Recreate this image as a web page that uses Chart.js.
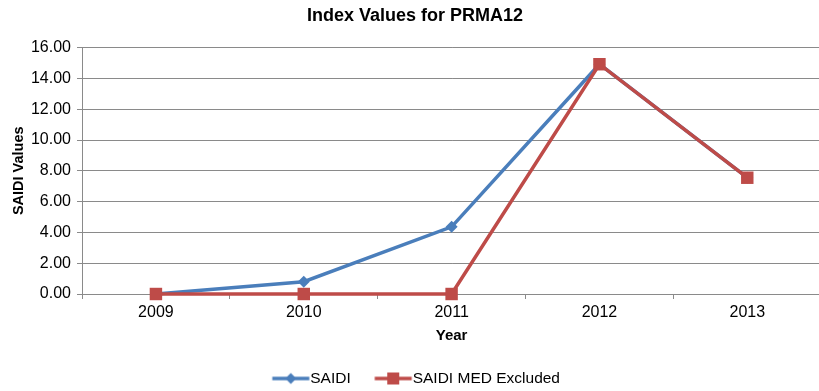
<!DOCTYPE html>
<html>
<head>
<meta charset="utf-8">
<script src="https://cdn.jsdelivr.net/npm/chart.js@4/dist/chart.umd.min.js"></script>
<style>
  html, body { margin: 0; padding: 0; background: #fff; overflow: hidden; }
  #wrap { position: relative; width: 830px; height: 391px; }
</style>
</head>
<body>
<div id="wrap"><canvas id="chart" width="830" height="391"></canvas></div>
<script>
// Reliability index per year for circuit PRMA12
const years = ['2009', '2010', '2011', '2012', '2013'];
const saidi = [0.00, 0.80, 4.36, 14.92, 7.55];
const saidiMedExcluded = [0.00, 0.00, 0.00, 14.92, 7.55];
const seriesNames = ['SAIDI', 'SAIDI MED Excluded'];
const yTicks = [0, 2, 4, 6, 8, 10, 12, 14, 16];

const BLUE = '#4a7ebb';
const RED = '#be4b48';
const GRID = '#8a8a8a';
const FONT = '"Liberation Sans", Arial, sans-serif';

// Legend swatch: short line with the series marker in the middle.
// The canvas is wider than the line so the line sits right next to the text.
function swatch(color, marker) {
  const c = document.createElement('canvas');
  c.width = 46; c.height = 14;
  const g = c.getContext('2d');
  const x0 = 7.5, x1 = x0 + 37, mid = (x0 + x1) / 2;
  g.strokeStyle = color; g.lineWidth = 3.5;
  g.beginPath(); g.moveTo(x0, 7); g.lineTo(x1, 7); g.stroke();
  g.fillStyle = color;
  if (marker === 'diamond') {
    g.beginPath(); g.moveTo(mid, 1.5); g.lineTo(mid + 5.5, 7); g.lineTo(mid, 12.5); g.lineTo(mid - 5.5, 7); g.closePath(); g.fill();
  } else {
    g.fillRect(mid - 6, 1, 12, 12);
  }
  return c;
}
const legendIcons = [swatch(BLUE, 'diamond'), swatch(RED, 'square')];

// Small horizontal nudges for the title and legend blocks
const blockNudge = {
  id: 'blockNudge',
  afterLayout(chart) {
    if (chart.legend) { chart.legend.left += 3; chart.legend.right += 3; }
    if (chart.titleBlock) { chart.titleBlock.left += 1.5; chart.titleBlock.right += 1.5; }
  }
};

new Chart(document.getElementById('chart'), {
  type: 'line',
  data: {
    labels: years,
    datasets: [
      {
        label: seriesNames[0],
        data: saidi,
        borderColor: BLUE,
        backgroundColor: BLUE,
        borderWidth: 3.5,
        pointStyle: 'rectRot',
        pointRadius: 6,
        pointBorderWidth: 0,
        pointBackgroundColor: BLUE,
        tension: 0,
        clip: false,
        order: 1
      },
      {
        label: seriesNames[1],
        data: saidiMedExcluded,
        borderColor: RED,
        backgroundColor: RED,
        borderWidth: 3.5,
        pointStyle: 'rect',
        pointRadius: 8.8,
        pointBorderWidth: 0,
        pointBackgroundColor: RED,
        tension: 0,
        clip: false,
        order: 0
      }
    ]
  },
  plugins: [blockNudge],
  options: {
    responsive: false,
    animation: false,
    devicePixelRatio: 1,
    layout: { padding: { left: 0, right: 3, top: 0, bottom: 0 } },
    plugins: {
      tooltip: { enabled: false },
      title: {
        display: true,
        text: 'Index Values for PRMA12',
        color: '#000',
        font: { family: FONT, size: 18, weight: 'bold' },
        padding: { top: 5, bottom: 21 }
      },
      legend: {
        position: 'bottom',
        maxHeight: 45,
        labels: {
          color: '#000',
          font: { family: FONT, size: 15.5 },
          usePointStyle: true,
          pointStyleWidth: 29.5,
          padding: 24.7,
          generateLabels: () => seriesNames.map((name, i) => ({
            text: name,
            pointStyle: legendIcons[i],
            fillStyle: 'transparent',
            strokeStyle: 'transparent',
            lineWidth: 0,
            hidden: false,
            datasetIndex: i
          }))
        }
      }
    },
    scales: {
      x: {
        type: 'category',
        offset: true,
        grid: {
          display: true,
          offset: true,
          drawOnChartArea: false,
          drawTicks: true,
          tickLength: 5,
          color: GRID
        },
        border: { display: true, color: GRID, width: 1 },
        ticks: { color: '#000', font: { family: FONT, size: 16 }, padding: 4, maxRotation: 0 },
        title: {
          display: true,
          text: 'Year',
          color: '#000',
          font: { family: FONT, size: 15, weight: 'bold' },
          padding: { top: 2, bottom: 1 }
        },
        afterFit: (s) => { s.height = 52; }
      },
      y: {
        min: 0,
        max: 16,
        afterBuildTicks: (s) => { s.ticks = yTicks.map(v => ({ value: v })); },
        grid: { color: GRID, lineWidth: 1, tickLength: 5, drawTicks: true },
        border: { display: true, color: GRID, width: 1 },
        ticks: {
          color: '#000',
          font: { family: FONT, size: 16 },
          padding: 6,
          callback: (v) => Number(v).toFixed(2)
        },
        title: {
          display: true,
          text: 'SAIDI Values',
          color: '#000',
          font: { family: FONT, size: 14.5, weight: 'bold' },
          padding: { top: 10, bottom: 0 }
        },
        afterFit: (s) => { s.width = 82; }
      }
    }
  }
});
</script>
</body>
</html>
